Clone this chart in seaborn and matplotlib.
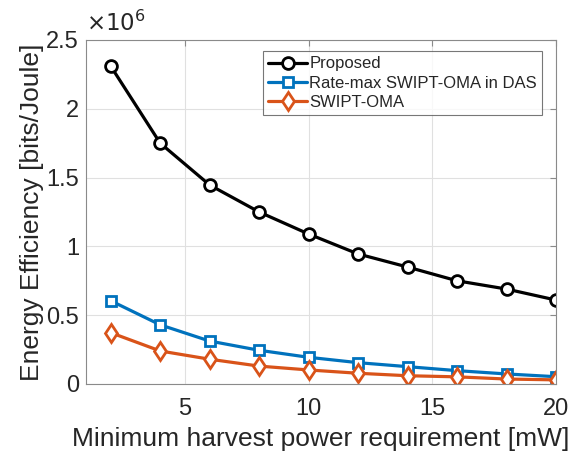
import matplotlib
matplotlib.use("Agg")
import matplotlib.pyplot as plt
import seaborn as sns
import pandas as pd
from matplotlib.ticker import FuncFormatter

x_vals = [2, 4, 6, 8, 10, 12, 14, 16, 18, 20]
proposed = [2.31e6, 1.75e6, 1.446e6, 1.25e6, 1.09e6, 0.945e6, 0.85e6, 0.75e6, 0.69e6, 0.61e6]
rate_max = [0.605e6, 0.43e6, 0.312e6, 0.245e6, 0.194e6, 0.155e6, 0.126e6, 0.097e6, 0.073e6, 0.053e6]
swipt_oma = [0.373e6, 0.24e6, 0.18e6, 0.13e6, 0.102e6, 0.078e6, 0.06e6, 0.052e6, 0.036e6, 0.03e6]
series_names = ["Proposed", "Rate-max SWIPT-OMA in DAS", "SWIPT-OMA"]
x_ticks = [5, 10, 15, 20]
y_ticks = [0, 0.5e6, 1.0e6, 1.5e6, 2.0e6, 2.5e6]

sns.set_theme(style="white")
plt.rcParams['font.family'] = ['Liberation Sans', 'DejaVu Sans']

fig = plt.figure(figsize=(5.79, 4.54), dpi=100)
ax = fig.add_axes([0.1485, 0.1542, 0.8118, 0.7577])

styles = [
    dict(color="black", marker="o", ms=8.5),
    dict(color="#0072BD", marker="s", ms=6.5),
    dict(color="#D95319", marker="d", ms=9.5),
]
for name, vals, st in zip(series_names, [proposed, rate_max, swipt_oma], styles):
    df = pd.DataFrame({"x": x_vals, "y": vals})
    sns.lineplot(data=df, x="x", y="y", ax=ax, color=st["color"], marker=st["marker"],
                 markersize=st["ms"], markerfacecolor="white", markeredgecolor=st["color"],
                 markeredgewidth=2, linewidth=2.3, label=name)

ax.set_xlim(1, 20)
ax.set_ylim(0, 2.5e6)
ax.set_xticks(x_ticks)
ax.set_yticks(y_ticks)
ax.yaxis.set_major_formatter(FuncFormatter(lambda v, p: f"{v/1e6:g}"))
ax.grid(True, color="#e0e0e0", linewidth=0.8)
for s in ax.spines.values():
    s.set_color("#8a8a8a")
    s.set_linewidth(0.8)
ax.tick_params(direction="in", top=True, right=True, length=4, width=0.8,
               colors="#8a8a8a", labelcolor="#262626", labelsize=17)
ax.tick_params(axis="x", pad=10)
ax.tick_params(axis="y", pad=5)
ax.set_xlabel("Minimum harvest power requirement [mW]", fontsize=19, color="#262626", labelpad=5)
ax.set_ylabel("Energy Efficiency [bits/Joule]", fontsize=19, color="#262626", labelpad=2)
ax.text(0.0, 1.012, r"$\times10^{6}$", transform=ax.transAxes, fontsize=16.5,
        color="#262626", ha="left", va="bottom", math_fontfamily="dejavusans")

leg = ax.legend(loc="upper right", bbox_to_anchor=(0.97, 0.967), fontsize=12,
                frameon=True, fancybox=False, handlelength=2.3, handletextpad=0.15,
                borderpad=0.3, labelspacing=0.25, borderaxespad=0)
leg.get_frame().set_edgecolor("#555555")
leg.get_frame().set_linewidth(0.8)

fig.savefig("out.png", dpi=100)
